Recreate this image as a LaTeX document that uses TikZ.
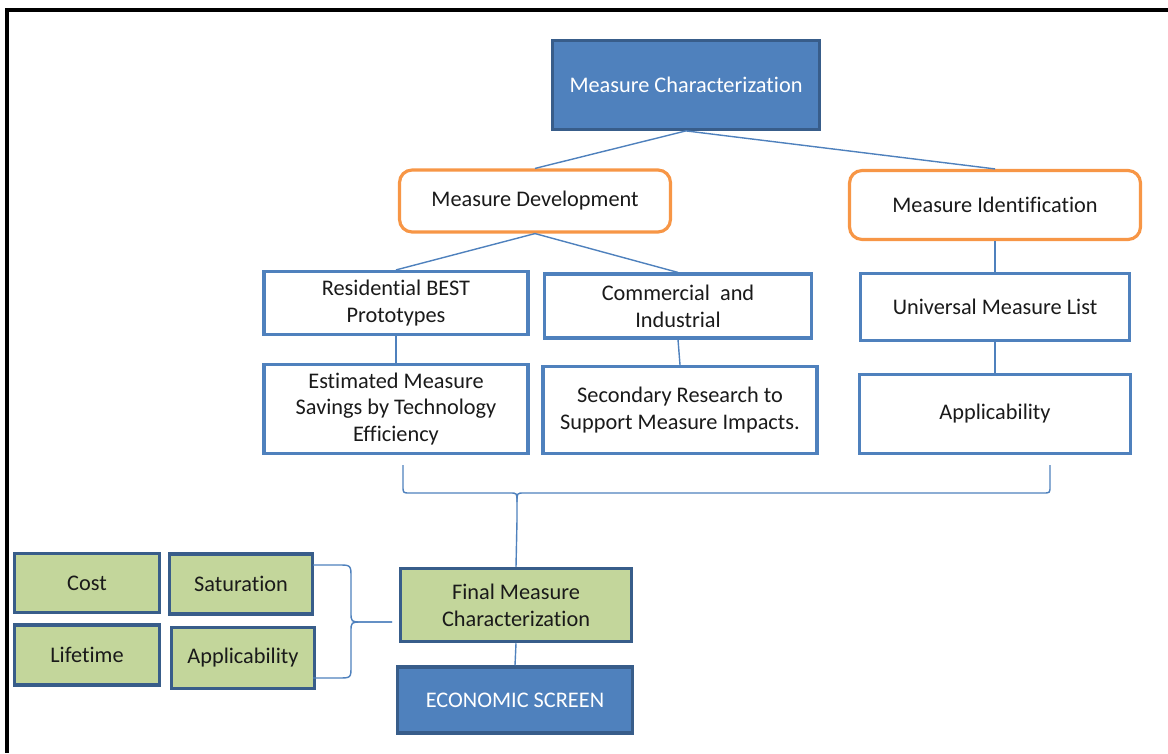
\documentclass[tikz,border=0pt]{standalone}
\usepackage{fontspec}
\setmainfont{Carlito}[Ligatures=NoCommon]
\definecolor{mcblue}{HTML}{4F81BD}
\definecolor{mcborder}{HTML}{385D8A}
\definecolor{mdorange}{HTML}{F79646}
\definecolor{mcgreen}{HTML}{C3D69B}
\definecolor{txt}{HTML}{1A1A1A}
\begin{document}
\begin{tikzpicture}[x=0.02cm,y=-0.02cm,
	every node/.style={font=\fontsize{12.7}{15.2}\selectfont, align=center, inner sep=2pt},
	topbox/.style={draw=mcborder, fill=mcblue, text=white, line width=1.6pt},
	devbox/.style={draw=mdorange, fill=white, rounded corners=0.25cm, line width=1.8pt, text=txt},
	itembox/.style={draw=mcblue, fill=white, line width=1.8pt, text=txt},
	greenbox/.style={draw=mcborder, fill=mcgreen, line width=2pt, text=txt},
	link/.style={draw=mcblue, line width=0.8pt}]
	\useasboundingbox (0,0) rectangle (1168,753);
	\draw [line width=2.2pt] (1168,10) -- (7,10) -- (7,753);
	\node [topbox, minimum width=5.34cm, minimum height=1.78cm] (char) at (686,85) {Measure Characterization};
	\node [devbox, minimum width=5.42cm, minimum height=1.24cm] (dev) at (535,201) {Measure Development};
	\node [devbox, minimum width=5.82cm, minimum height=1.38cm] (ident) at (995,205) {Measure Identification};
	\node [itembox, minimum width=5.28cm, minimum height=1.26cm] (res) at (396,303) {Residential BEST\\Prototypes};
	\node [itembox, minimum width=5.34cm, minimum height=1.28cm] (com) at (678,306) {Commercial~ and\\Industrial};
	\node [itembox, minimum width=5.38cm, minimum height=1.34cm] (uml) at (995,307) {Universal Measure List};
	\node [itembox, minimum width=5.28cm, minimum height=1.78cm] (est) at (396,409) {Estimated Measure\\Savings by Technology\\Efficiency};
	\node [itembox, minimum width=5.48cm, minimum height=1.74cm] (sec) at (680,410) {Secondary Research to\\Support Measure Impacts.};
	\node [itembox, minimum width=5.42cm, minimum height=1.58cm] (app) at (995,414) {Applicability};
	\node [greenbox, minimum width=4.62cm, minimum height=1.46cm] (fin) at (516,605) {Final Measure\\Characterization};
	\node [topbox, line width=2pt, minimum width=4.7cm, minimum height=1.32cm] (eco) at (515,700) {ECONOMIC SCREEN};
	\node [greenbox, minimum width=2.9cm, minimum height=1.18cm] (cost) at (87,583) {Cost};
	\node [greenbox, minimum width=2.86cm, minimum height=1.2cm] (sat) at (241,584) {Saturation};
	\node [greenbox, minimum width=2.9cm, minimum height=1.2cm] (life) at (87,655) {Lifetime};
	\node [greenbox, minimum width=2.86cm, minimum height=1.22cm] (app2) at (243,658) {Applicability};
	\draw [link] (char.south) -- (dev.north);
	\draw [link] (char.south) -- (ident.north);
	\draw [link] (dev.south) -- (res.north);
	\draw [link] (dev.south) -- (com.north);
	\draw [link] (res.south) -- (est.north);
	\draw [link] (com.south) -- (sec.north);
	\draw [link] (ident.south) -- (uml.north);
	\draw [link] (uml.south) -- (app.north);
	\draw [link] (fin.south) -- (eco.north);
	\coordinate (bigtip) at (517,520);
	\draw [link] (403,465) -- (403,486) .. controls (403,493) .. (410,493) -- (510,493) .. controls (517,493) .. (517,502) -- (bigtip);
	\draw [link] (517,502) .. controls (517,493) .. (524,493) -- (1043,493) .. controls (1050,493) .. (1050,486) -- (1050,465);
	\draw [link] (bigtip) -- (fin.north);
	\coordinate (smalltip) at (392,622);
	\draw [link] (313,565) -- (338,565) .. controls (351,565) .. (351,578) -- (351,612) .. controls (351,622) .. (362,622) -- (smalltip);
	\draw [link] (smalltip) -- (362,622) .. controls (351,622) .. (351,632) -- (351,666) .. controls (351,678) .. (338,678) -- (313,678);
\end{tikzpicture}
\end{document}
